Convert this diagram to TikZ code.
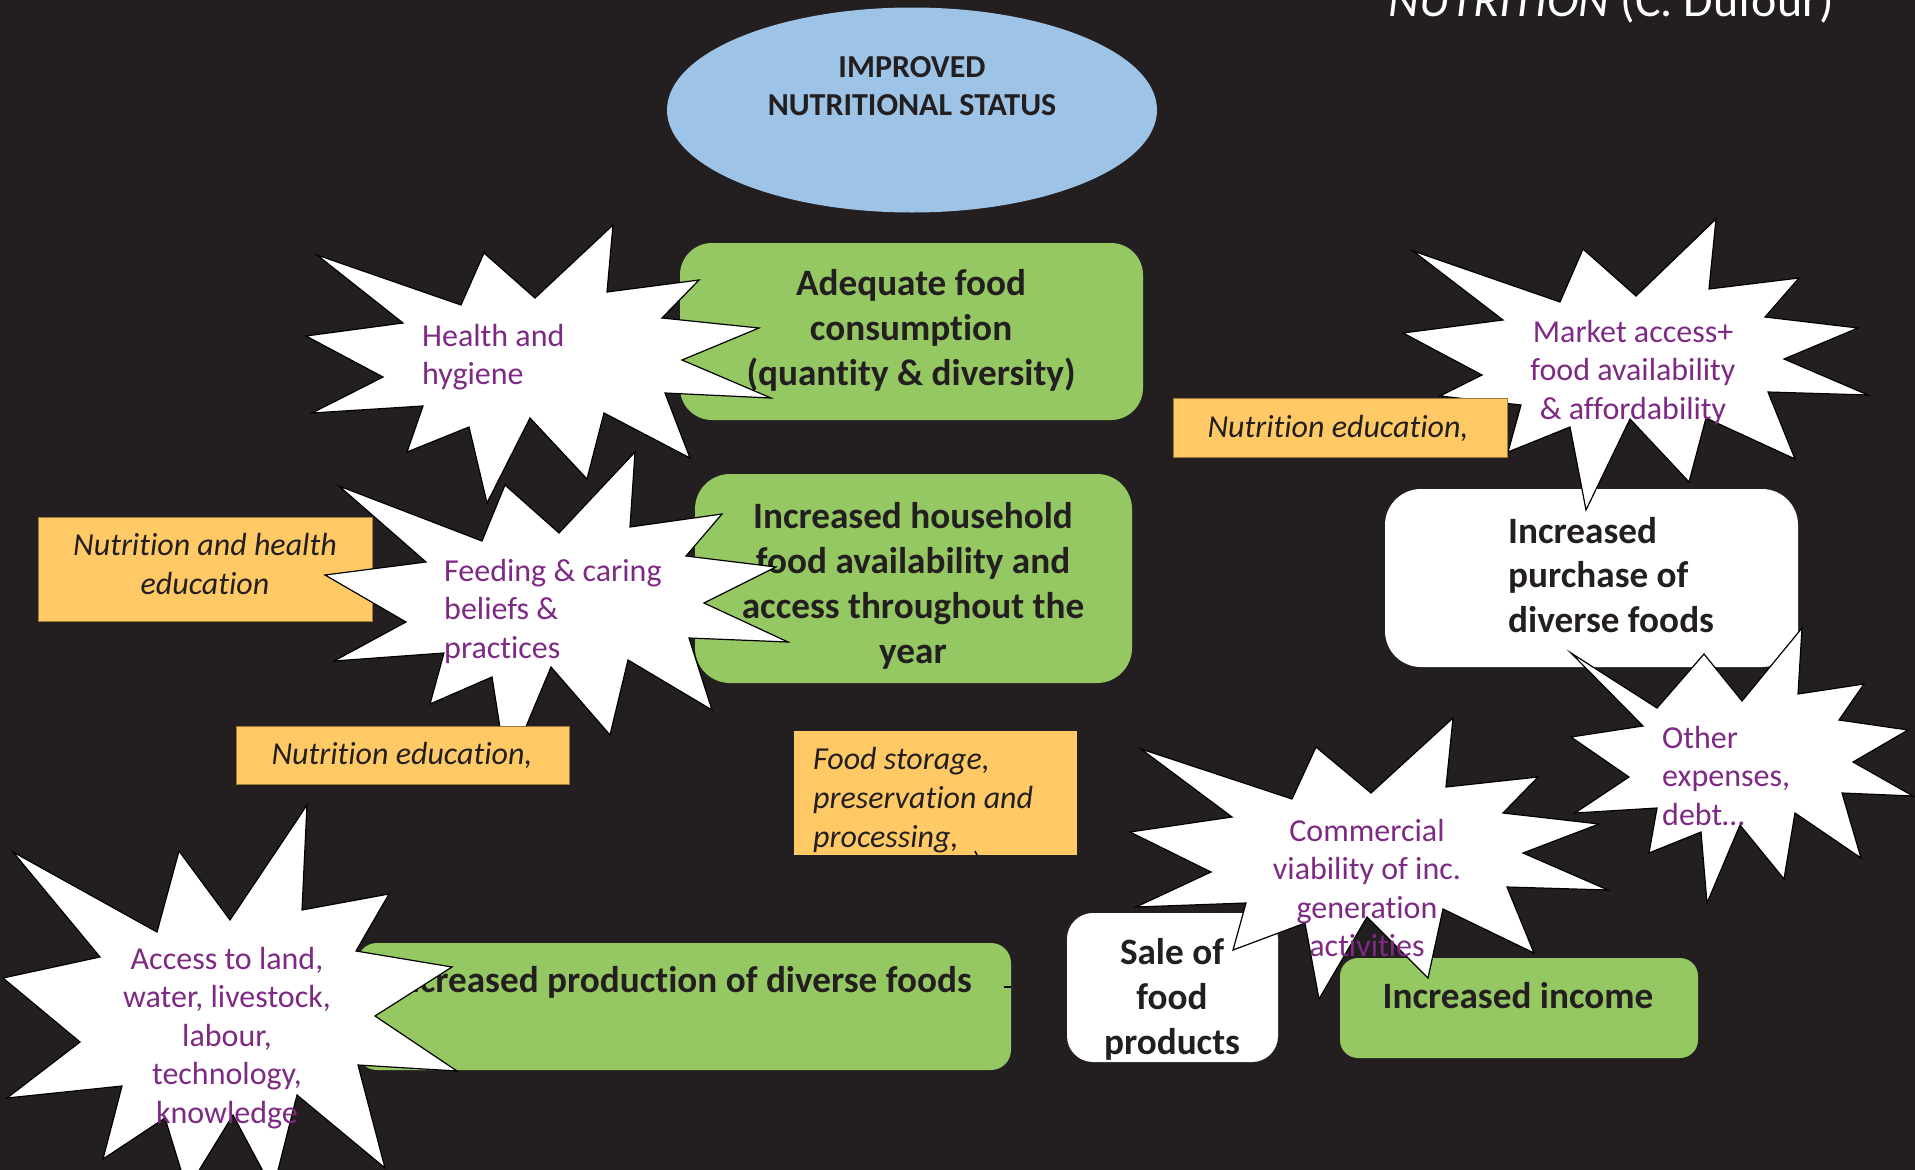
\documentclass[tikz,border=0pt]{standalone}
\usepackage{fontspec}
\setmainfont{Carlito}[Ligatures=NoCommon]
\usetikzlibrary{shapes.geometric}

\definecolor{bg}{HTML}{231F20}
\definecolor{ink}{HTML}{231F20}
\definecolor{leaf}{HTML}{95C862}
\definecolor{sky}{HTML}{9DC3E6}
\definecolor{note}{HTML}{FFCA66}
\definecolor{noteedge}{HTML}{9C7A35}
\definecolor{plum}{HTML}{7E2A84}

\begin{document}
\begin{tikzpicture}[x=1pt,y=-1pt,
  greenbox/.style={fill=leaf, rounded corners=#1, inner sep=0pt},
  greenbox/.default=32pt,
  whitebox/.style={fill=white, rounded corners=#1, inner sep=0pt},
  whitebox/.default=34pt,
  notebox/.style={fill=note, draw=noteedge, line width=0.8pt, inner sep=0pt},
  burst/.style={fill=white, draw=black, line width=1.2pt, line join=miter},
  boldtext/.style={text=ink, inner sep=0pt, align=center,
    font=\fontsize{37.2}{44.8}\selectfont\bfseries},
  notetext/.style={text=ink, inner sep=0pt, align=center,
    font=\fontsize{32}{38.7}\selectfont\itshape},
  bursttext/.style={text=plum, inner sep=0pt, align=center,
    font=\fontsize{32}{38.5}\selectfont},
  tick/.style={draw=black, line width=2pt}]

% canvas
\useasboundingbox (0,0) rectangle (1915,1170);
\fill[bg] (0,0) rectangle (1915,1170);

% credit line
\node[anchor=base east, text=white, inner sep=0pt,
  font=\fontsize{48}{56}\selectfont] (credit) at (1834,16)
  {\itshape NUTRITION\upshape{} (C. Dufour)};

% goal
\node[ellipse, fill=sky, minimum width=490pt, minimum height=205pt,
  inner sep=0pt] (status) at (912,110) {};
\node[text=ink, inner sep=0pt, align=center,
  font=\fontsize{32}{38.5}\selectfont\bfseries] (statustxt) at (912,86)
  {IMPROVED\\NUTRITIONAL STATUS};

% adequate food consumption
\node[greenbox, minimum width=463pt, minimum height=177pt] (adequate) at (911.5,331.5) {};
\node[boldtext] (adequatetxt) at (911,330.5)
  {Adequate food\\consumption\\(quantity \& diversity)};

\path[burst] (613,225) -- (607,292) -- (699,280) -- (662,318) -- (759,328)
  -- (682,360) -- (771,398) -- (665,393) -- (690,458) -- (604,413)
  -- (587,479) -- (530,418) -- (487,503) -- (469,427) -- (407,452)
  -- (423,406) -- (312,413) -- (383,377) -- (306,336) -- (403,323)
  -- (317,255) -- (461,305) -- (484,253) -- (535,298) -- cycle;
\node[bursttext, align=left, anchor=west] (health) at (422,357)
  {Health and\\hygiene};

% household availability
\node[greenbox=35pt, minimum width=437pt, minimum height=209pt] (household) at (913.5,578.5) {};
\node[boldtext] (householdtxt) at (913,586)
  {Increased household\\food availability and\\access throughout the\\year};

\node[notebox, minimum width=334pt, minimum height=104pt] (nhedu) at (205,569) {};
\node[notetext] (nhedutxt) at (205,564) {Nutrition and health\\education};

\path[burst] (635,452) -- (630,527) -- (722,514) -- (686,556) -- (776,567)
  -- (704,603) -- (788,642) -- (689,638) -- (712,710) -- (628,660)
  -- (610,735) -- (551,667) -- (507,772) -- (492,677) -- (430,704)
  -- (444,653) -- (334,661) -- (406,622) -- (325,575) -- (426,562)
  -- (339,486) -- (482,541) -- (505,485) -- (559,533) -- cycle;
\node[bursttext, align=left, anchor=west] (feeding) at (444,611)
  {Feeding \& caring\\beliefs \&\\practices};

\node[notebox, minimum width=333pt, minimum height=58pt] (nedua) at (402.5,755.5) {};
\node[notetext] (neduatxt) at (402,755) {Nutrition education,};

% storage
\node[notebox, draw=none, minimum width=283pt, minimum height=124pt] (storage) at (935.5,793) {};
\node[notetext, align=left, anchor=west] (storagetxt) at (813,800)
  {Food storage,\\preservation and\\processing,};
\path[tick, line width=1.5pt] (975,851) -- (977,855);

% purchase side
\node[whitebox=36pt, minimum width=413pt, minimum height=178pt] (purchase) at (1591.5,578) {};
\node[boldtext, align=left, anchor=west] (purchasetxt) at (1508,575)
  {Increased\\purchase of\\diverse foods};

\path[burst] (1716,219) -- (1709,289) -- (1799,278) -- (1765,317) -- (1858,328)
  -- (1784,359) -- (1868,395) -- (1768,392) -- (1795,459) -- (1706,418)
  -- (1689,482) -- (1630,419) -- (1586,510) -- (1570,427) -- (1508,452)
  -- (1521,405) -- (1440,396) -- (1482,375) -- (1403,333) -- (1503,320)
  -- (1413,251) -- (1560,302) -- (1583,249) -- (1636,296) -- cycle;
\node[bursttext] (market) at (1633,372)
  {Market access+\\food availability\\\& affordability};

\node[notebox, minimum width=334pt, minimum height=59pt] (nedub) at (1340,427.5) {};
\node[notetext] (nedubtxt) at (1338,428) {Nutrition education,};

\path[burst] (1571,653) -- (1657,708) -- (1704,654) -- (1742,701) -- (1802,628)
  -- (1798,694) -- (1864,684) -- (1839,720) -- (1908,730) -- (1853,762)
  -- (1913,796) -- (1842,793) -- (1861,858) -- (1795,813) -- (1784,879)
  -- (1740,825) -- (1707,903) -- (1701,832) -- (1649,853) -- (1657,808)
  -- (1575,813) -- (1629,777) -- (1571,737) -- (1643,726) -- cycle;
\node[bursttext, align=left, anchor=west] (other) at (1662,776)
  {Other\\expenses,\\debt…};

% production
\node[greenbox=20pt, minimum width=654pt, minimum height=127pt] (production) at (684,1006.5) {};
\node[boldtext, anchor=east] (productiontxt) at (972,982)
  {Increased production of diverse foods};
\path[tick, line width=2.5pt] (1004,987) -- (1011,987);

\path[burst] (307,805) -- (302,910) -- (389,894) -- (356,951) -- (452,967)
  -- (375,1016) -- (457,1071) -- (358,1065) -- (385,1168) -- (297,1095)
  -- (273,1190) -- (233,1115) -- (187,1190) -- (165,1118) -- (103,1159)
  -- (122,1086) -- (7,1098) -- (80,1042) -- (3,978) -- (100,957)
  -- (13,852) -- (157,932) -- (179,851) -- (230,920) -- cycle;
\node[bursttext] (access) at (227,1038)
  {Access to land,\\water, livestock,\\labour,\\technology,\\knowledge};

% income side
\node[whitebox=26pt, minimum width=211pt, minimum height=149pt] (sale) at (1172.5,987.5) {};
\node[boldtext] (saletxt) at (1172,999.5) {Sale of\\food\\products};

\node[greenbox=18pt, minimum width=358pt, minimum height=100pt] (income) at (1519,1008) {};
\node[boldtext] (incometxt) at (1518,996) {Increased income};

\path[burst] (1453,718) -- (1446,787) -- (1538,777) -- (1503,813) -- (1599,824)
  -- (1523,853) -- (1608,890) -- (1507,887) -- (1534,953) -- (1443,909)
  -- (1428,978) -- (1367,917) -- (1319,999) -- (1305,923) -- (1233,950)
  -- (1246,903) -- (1136,907) -- (1211,872) -- (1130,832) -- (1232,817)
  -- (1141,749) -- (1292,799) -- (1316,747) -- (1371,793) -- cycle;
\node[bursttext] (commercial) at (1367,888)
  {Commercial\\viability of inc.\\generation\\activities};

\end{tikzpicture}
\end{document}
